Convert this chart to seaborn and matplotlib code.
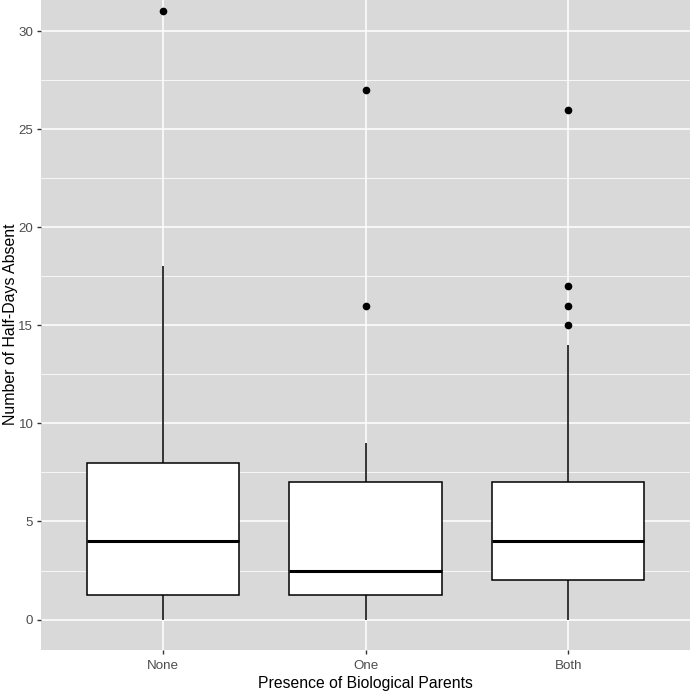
import numpy as np
import pandas as pd
import matplotlib
matplotlib.use("Agg")
import matplotlib.pyplot as plt
import seaborn as sns
from matplotlib.ticker import MultipleLocator

categories = ["None", "One", "Both"]
none_vals = [0, 0, 1, 1, 2, 3, 4, 4, 6, 8, 8, 12, 18, 31]
one_vals = [0, 0, 1, 1, 2, 2, 2, 3, 5, 7, 7, 9, 16, 27]
both_vals = [0, 1, 1, 2, 2, 2, 3, 3, 4, 4, 4, 5, 5, 6, 7, 7, 14, 15, 16, 17, 26]

df = pd.DataFrame({
    "parents": ["None"] * len(none_vals) + ["One"] * len(one_vals) + ["Both"] * len(both_vals),
    "absent": none_vals + one_vals + both_vals,
})

sns.set_theme(style="darkgrid")
plt.rcParams["font.family"] = ["Liberation Sans", "DejaVu Sans"]

fig = plt.figure(figsize=(6.9, 6.92), dpi=100)
W, H = 690, 692
left, right, bottom_px, top_px = 41, 690, 650, -19
ax = fig.add_axes([left / W, (H - bottom_px) / H, (right - left) / W, (bottom_px - top_px) / H])
ax.set_facecolor("#D9D9D9")

sns.boxplot(data=df, x="parents", y="absent", order=categories, ax=ax, width=0.75,
            whis=1.5, color="white", linecolor="black", linewidth=1.1,
            showcaps=False,
            medianprops=dict(color="black", linewidth=2.2),
            flierprops=dict(marker="o", markerfacecolor="black", markeredgecolor="black", markersize=4.5),
            zorder=3)

ax.set_xlim(0.4 - 1, 3.6 - 1)
ax.set_ylim(-1.55, 32.55)
ax.yaxis.set_major_locator(MultipleLocator(5))
ax.yaxis.set_minor_locator(MultipleLocator(2.5))
ax.grid(which="major", color="white", linewidth=1.1, zorder=0)
ax.grid(which="minor", axis="y", color="white", linewidth=0.55, zorder=0)
ax.set_axisbelow(True)
for s in ax.spines.values():
    s.set_visible(False)

ax.tick_params(axis="both", which="major", length=3, width=1, color="#333333",
               labelsize=9.6, labelcolor="#4D4D4D", pad=2.5, direction="out")
ax.tick_params(axis="x", which="major", pad=4)
ax.tick_params(axis="both", which="minor", length=0)
ax.tick_params(axis="both", left=True, bottom=True)

ax.set_xlabel("Presence of Biological Parents", fontsize=11.3, color="black", labelpad=3)
ax.set_ylabel("Number of Half-Days Absent", fontsize=11.4, color="black", va="center")
ax.yaxis.set_label_coords((11 - left) / (right - left), (bottom_px - 324) / (bottom_px - top_px))

fig.savefig("out.png", dpi=100)
